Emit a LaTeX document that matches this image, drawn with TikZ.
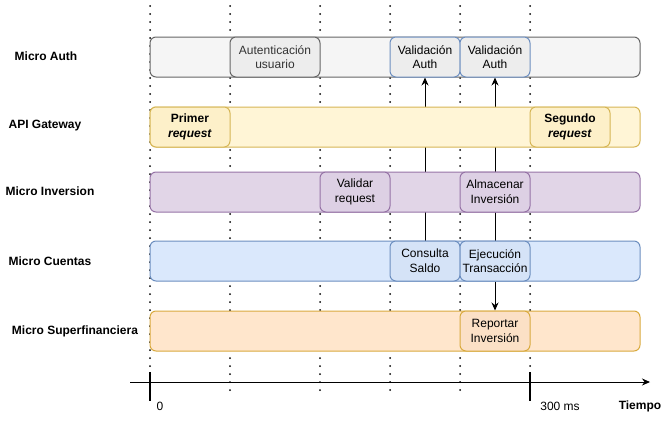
\documentclass[tikz,border=0pt]{standalone}
\usepackage{fontspec}
\setmainfont{Liberation Sans}
\usetikzlibrary{positioning,arrows.meta,backgrounds}
\definecolor{auth-fill}{HTML}{F5F5F5}
\definecolor{auth-task}{HTML}{EDEDED}
\definecolor{auth-line}{HTML}{666666}
\definecolor{gw-fill}{HTML}{FFF5D6}
\definecolor{gw-task}{HTML}{FDF0C9}
\definecolor{gw-line}{HTML}{D6B656}
\definecolor{inv-fill}{HTML}{E1D5E7}
\definecolor{inv-task}{HTML}{DDD0E4}
\definecolor{inv-line}{HTML}{9673A6}
\definecolor{cta-fill}{HTML}{DAE8FC}
\definecolor{cta-task}{HTML}{D5E3F7}
\definecolor{cta-line}{HTML}{6C8EBF}
\definecolor{sf-fill}{HTML}{FFE6CC}
\definecolor{sf-task}{HTML}{FBE0C6}
\definecolor{sf-line}{HTML}{D9AA3E}
\definecolor{task-text}{HTML}{333333}
\newlength{\basispx}
\setlength{\basispx}{0.75pt}

\tikzset{
    lane/.style={minimum height=40\basispx, inner sep=0pt, draw, line width=1\basispx, rounded corners=6\basispx},
    task/.style={lane, align=center, font=\fontsize{9}{11}\selectfont},
    lanelabel/.style={font=\fontsize{9}{11}\selectfont\bfseries},
    ticklabel/.style={font=\fontsize{9}{11}\selectfont},
    flow/.style={-{Stealth[length=6pt,width=5.25pt]}, line width=0.75pt},
    guide/.style={line width=1.5pt, dash pattern=on 0pt off 6pt, line cap=round},
}

\begin{document}
\begin{tikzpicture}
    \useasboundingbox (0,0) rectangle (670\basispx,-421\basispx);

    % lanes
    \draw (395\basispx,-57\basispx) 
		node[lane, fill=auth-fill, draw=auth-line, minimum width=490\basispx] 
			(AuthLane) {};
    \draw (395\basispx,-127\basispx) 
		node[lane, fill=gw-fill, draw=gw-line, minimum width=490\basispx] 
			(GatewayLane) {};
    \draw (395\basispx,-192\basispx) 
		node[lane, fill=inv-fill, draw=inv-line, minimum width=490\basispx] 
			(InversionLane) {};
    \draw (395\basispx,-261\basispx) 
		node[lane, fill=cta-fill, draw=cta-line, minimum width=490\basispx] 
			(CuentasLane) {};
    \draw (395\basispx,-331\basispx) 
		node[lane, fill=sf-fill, draw=sf-line, minimum width=490\basispx] 
			(SuperLane) {};

    \draw (46\basispx,-56\basispx) node[lanelabel] (AuthLabel) {Micro Auth};
    \draw (45\basispx,-126\basispx) node[lanelabel] (GatewayLabel) {API Gateway};
    \draw (50\basispx,-191\basispx) node[lanelabel] (InversionLabel) {Micro Inversion};
    \draw (50\basispx,-261\basispx) node[lanelabel] (CuentasLabel) {Micro Cuentas};
    \draw (75\basispx,-331\basispx) node[lanelabel] (SuperLabel) {Micro Superfinanciera};

    % tasks
    \draw (275\basispx,-57\basispx) 
		node[task, fill=auth-task, draw=auth-line, text=task-text, minimum width=90\basispx] 
			(Autenticacion) {Autenticación\\usuario};
    \draw (425\basispx,-57\basispx) 
		node[task, fill=auth-task, draw=cta-line, minimum width=70\basispx] 
			(ValidacionAuth_1) {Validación\\Auth};
    \draw (495\basispx,-57\basispx) 
		node[task, fill=auth-task, draw=cta-line, minimum width=70\basispx] 
			(ValidacionAuth_2) {Validación\\Auth};

    \draw (190\basispx,-127\basispx) 
		node[task, fill=gw-task, draw=gw-line, minimum width=80\basispx, font=\fontsize{9}{11}\selectfont\bfseries] 
			(PrimerRequest) {Primer\\\textit{request}};
    \draw (570\basispx,-127\basispx) 
		node[task, fill=gw-task, draw=gw-line, minimum width=80\basispx, font=\fontsize{9}{11}\selectfont\bfseries] 
			(SegundoRequest) {Segundo\\\textit{request}};

    \draw (355\basispx,-192\basispx) 
		node[task, fill=inv-task, draw=inv-line, minimum width=70\basispx] 
			(ValidarRequest) {Validar\\request};
    \draw (495\basispx,-192\basispx) 
		node[task, fill=inv-task, draw=inv-line, minimum width=70\basispx] 
			(AlmacenarInversion) {Almacenar\\Inversión};

    \draw (425\basispx,-261\basispx) 
		node[task, fill=cta-task, draw=cta-line, minimum width=70\basispx] 
			(ConsultaSaldo) {Consulta\\Saldo};
    \draw (495\basispx,-261\basispx) 
		node[task, fill=cta-task, draw=cta-line, minimum width=70\basispx] 
			(EjecucionTransaccion) {Ejecución\\Transacción};

    \draw (495\basispx,-331\basispx) 
		node[task, fill=sf-task, draw=sf-line, minimum width=70\basispx] 
			(ReportarInversion) {Reportar\\Inversión};

    % guides and calls behind the lanes
    \begin{scope}[on background layer]
        \foreach \x in {150,230,320,390,460,530}
            \draw[guide] (\x\basispx,-6\basispx) -- (\x\basispx,-390\basispx);
        \draw[flow] (ConsultaSaldo) -- (ValidacionAuth_1);
        \draw[flow] (EjecucionTransaccion) -- (ValidacionAuth_2);
    \end{scope}
    \draw[flow] (EjecucionTransaccion) -- (ReportarInversion);

    % time axis
    \coordinate (AxisStart) at (130\basispx,-382\basispx);
    \coordinate (AxisEnd) at (650\basispx,-382\basispx);
    \draw[flow] (AxisStart) -- (AxisEnd);
    \draw[line width=1.5pt] (150\basispx,-372\basispx) -- (150\basispx,-401\basispx);
    \draw[line width=1.5pt] (530\basispx,-372\basispx) -- (530\basispx,-401\basispx);
    \draw (160\basispx,-406\basispx) node[ticklabel] (TickZero) {0};
    \draw (560\basispx,-406\basispx) node[ticklabel] (TickEnd) {300 ms};
    \draw (640\basispx,-406\basispx) node[ticklabel, font=\fontsize{9}{11}\selectfont\bfseries] (Tiempo) {Tiempo};
\end{tikzpicture}
\end{document}
